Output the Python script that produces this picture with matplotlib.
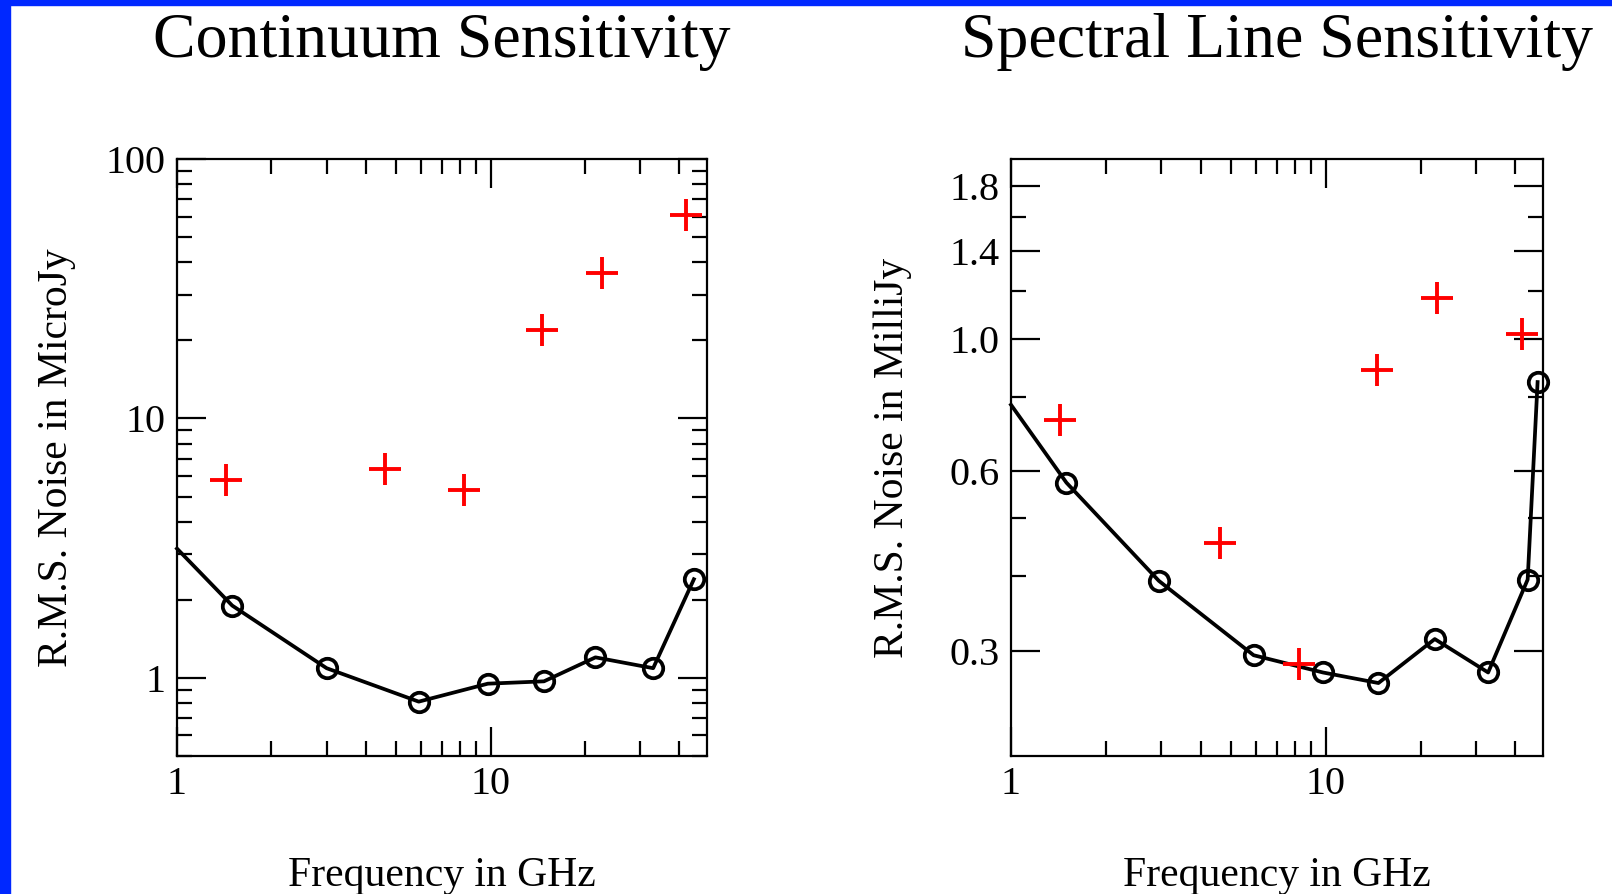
import matplotlib
matplotlib.use("Agg")
import matplotlib.pyplot as plt
from matplotlib.ticker import FixedLocator, FixedFormatter, LogLocator, NullFormatter
from matplotlib.patches import Rectangle

# ---- data -------------------------------------------------------------
# Continuum sensitivity (microJy)
cont_freq = [1.0, 1.5, 3.0, 5.9, 9.8, 14.8, 21.6, 33.0, 44.5]
cont_rms = [3.15, 1.9, 1.09, 0.81, 0.95, 0.97, 1.2, 1.09, 2.4]
cont_ref_freq = [1.43, 4.6, 8.2, 14.6, 22.6, 42.0]
cont_ref_rms = [5.8, 6.4, 5.3, 22.0, 36.5, 61.0]

# Spectral line sensitivity (milliJy)
line_freq = [1.0, 1.5, 2.95, 5.9, 9.8, 14.7, 22.2, 32.8, 43.8, 47.1]
line_rms = [0.775, 0.574, 0.393, 0.295, 0.276, 0.265, 0.314, 0.276, 0.395, 0.846]
line_ref_freq = [1.43, 4.6, 8.2, 14.6, 22.6, 42.0]
line_ref_rms = [0.73, 0.455, 0.285, 0.885, 1.17, 1.02]

x_major = [1, 10]
x_major_labels = ["1", "10"]
cont_y_major = [1, 10, 100]
cont_y_labels = ["1", "10", "100"]
line_y_major = [0.3, 0.6, 1.0, 1.4, 1.8]
line_y_labels = ["0.3", "0.6", "1.0", "1.4", "1.8"]
line_y_minor = [0.4, 0.5, 0.8, 1.2, 1.6]

titles = ["Continuum Sensitivity", "Spectral Line Sensitivity"]
ylabels = ["R.M.S. Noise in MicroJy", "R.M.S. Noise in MilliJy"]
xlabel = "Frequency in GHz"

# ---- style ------------------------------------------------------------
plt.rcParams["font.family"] = ["Liberation Serif", "DejaVu Serif"]
W, H = 1612, 894
fig = plt.figure(figsize=(W / 100, H / 100), dpi=100)
fig.patch.set_facecolor("white")

# blue slide frame along the top and left edges
fig.add_artist(Rectangle((0, 0), 10 / W, 1, transform=fig.transFigure,
                         color="#0028FF", zorder=10))
fig.add_artist(Rectangle((0, 1 - 5 / H), 1, 5 / H, transform=fig.transFigure,
                         color="#0028FF", zorder=10))

ax_l = fig.add_axes([177 / W, 1 - 756 / H, 530 / W, 597 / H])
ax_r = fig.add_axes([1011 / W, 1 - 756 / H, 532 / W, 597 / H])


def style_axes(ax):
    ax.set_xscale("log")
    ax.set_yscale("log")
    for s in ax.spines.values():
        s.set_linewidth(1.6)
    ax.tick_params(which="both", direction="in", top=True, right=True,
                   width=1.6, labelsize=29)
    ax.tick_params(which="major", length=21)
    ax.tick_params(which="minor", length=11)
    ax.tick_params(axis="x", which="both", pad=7)
    ax.tick_params(axis="y", which="both", pad=8)
    ax.set_xlim(1, 49)
    ax.xaxis.set_major_locator(FixedLocator(x_major))
    ax.xaxis.set_major_formatter(FixedFormatter(x_major_labels))
    ax.xaxis.set_minor_locator(LogLocator(base=10, subs=range(2, 10)))
    ax.xaxis.set_minor_formatter(NullFormatter())


style_axes(ax_l)
style_axes(ax_r)

# continuum panel
ax_l.set_ylim(0.5, 100)
ax_l.yaxis.set_major_locator(FixedLocator(cont_y_major))
ax_l.yaxis.set_major_formatter(FixedFormatter(cont_y_labels))
ax_l.yaxis.set_minor_locator(LogLocator(base=10, subs=range(2, 10)))
ax_l.yaxis.set_minor_formatter(NullFormatter())
ax_l.plot(cont_freq, cont_rms, color="black", lw=2.7, marker="o", ms=14,
          mfc="none", mec="black", mew=2.7, markevery=list(range(1, len(cont_freq))),
          clip_on=False, zorder=3)
ax_l.plot(cont_ref_freq, cont_ref_rms, ls="none", marker="+", ms=23, mew=2.8,
          color="#FF0000", clip_on=False, zorder=4)

# spectral line panel
ax_r.set_ylim(0.2, 2.0)
ax_r.yaxis.set_major_locator(FixedLocator(line_y_major))
ax_r.yaxis.set_major_formatter(FixedFormatter(line_y_labels))
ax_r.yaxis.set_minor_locator(FixedLocator(line_y_minor))
ax_r.yaxis.set_minor_formatter(NullFormatter())
ax_r.plot(line_freq, line_rms, color="black", lw=2.7, marker="o", ms=14,
          mfc="none", mec="black", mew=2.7, markevery=list(range(1, len(line_freq))),
          clip_on=False, zorder=3)
ax_r.plot(line_ref_freq, line_ref_rms, ls="none", marker="+", ms=23, mew=2.8,
          color="#FF0000", clip_on=False, zorder=4)

# titles and axis labels
for ax, title, ylab, ylx in [(ax_l, titles[0], ylabels[0], 67),
                             (ax_r, titles[1], ylabels[1], 903)]:
    pos = ax.get_position()
    cx = (pos.x0 + pos.x1) / 2
    cy = (pos.y0 + pos.y1) / 2
    fig.text(cx, 1 - 57 / H, title, ha="center", va="baseline", fontsize=46)
    fig.text(cx, 8 / H, xlabel, ha="center", va="baseline", fontsize=30)
    fig.text(ylx / W, cy, ylab, ha="center", va="baseline", fontsize=30,
             rotation=90, rotation_mode="anchor")

fig.savefig("out.png", dpi=100, facecolor="white")
